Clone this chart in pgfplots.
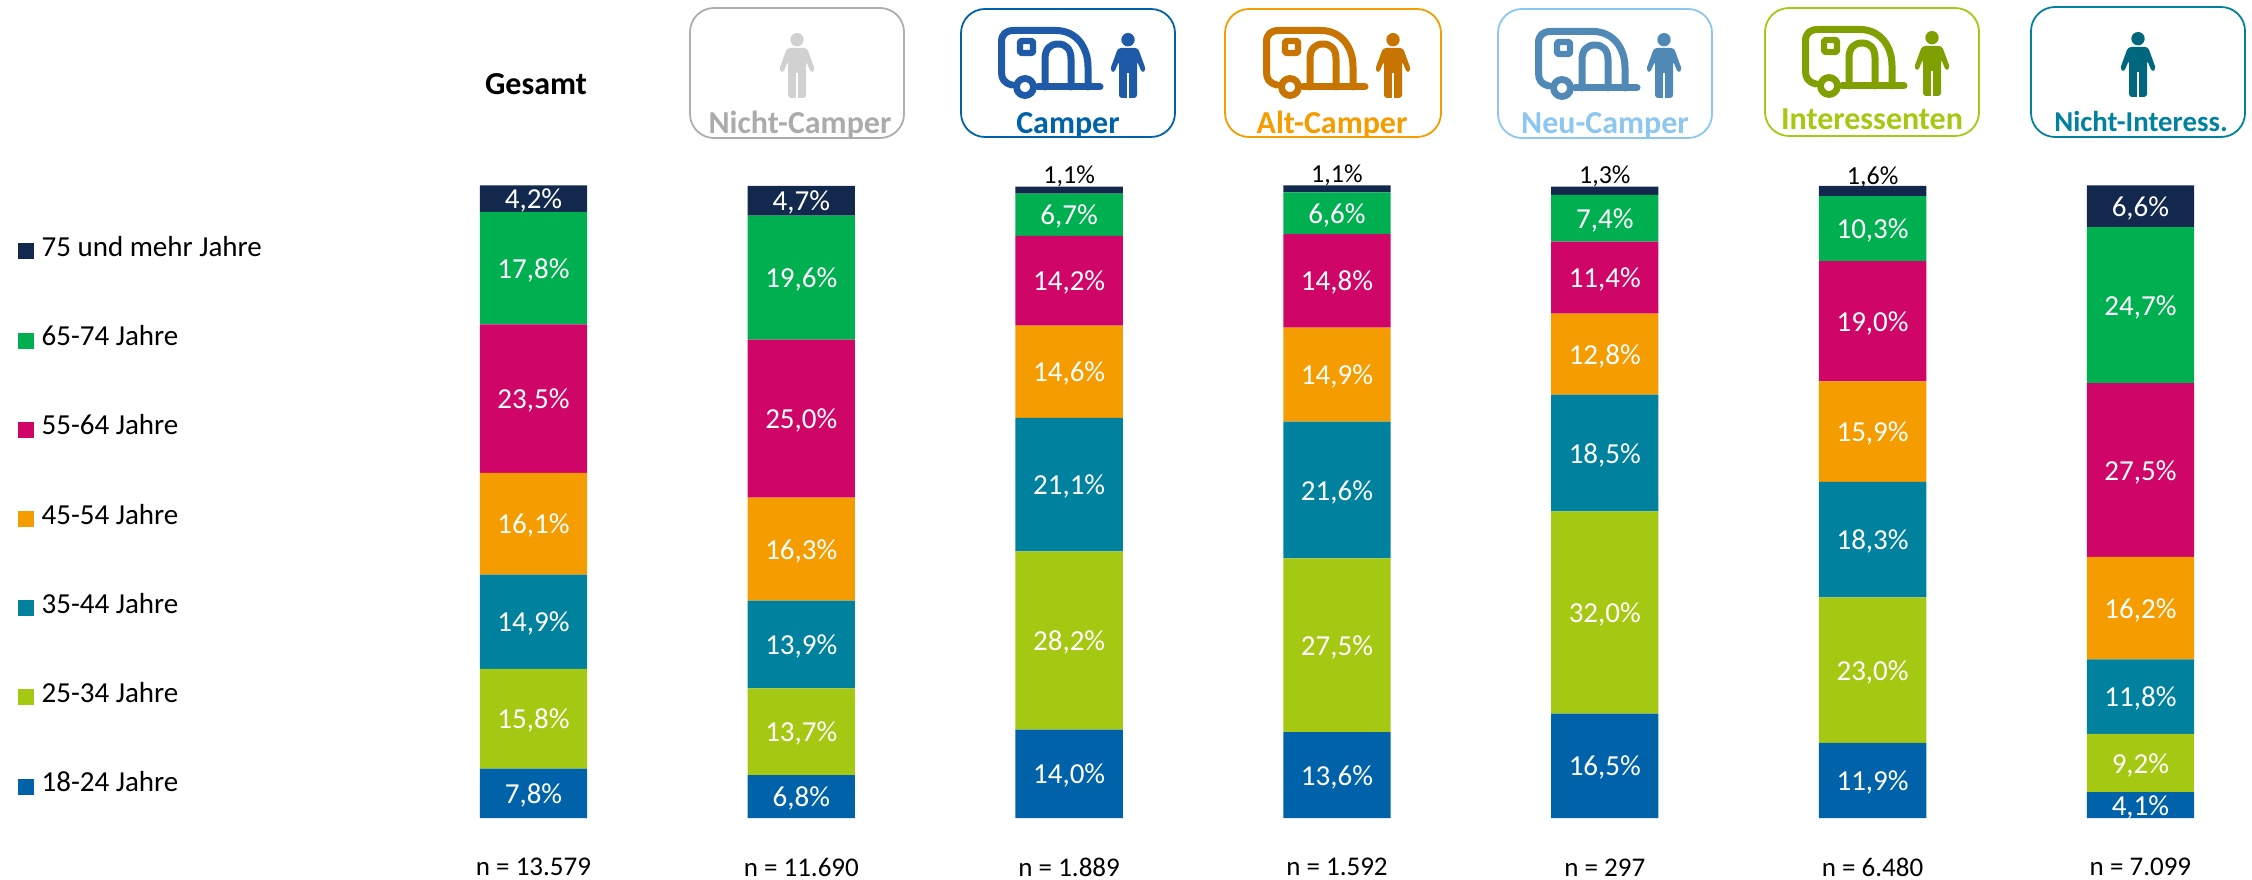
\documentclass[border=0pt]{standalone}
\usepackage{fontspec}
\setmainfont{Carlito}
\usepackage{pgfplots}
\pgfplotsset{compat=1.18}

\definecolor{cNavy}{HTML}{12284C}
\definecolor{cGreen}{HTML}{00B050}
\definecolor{cPink}{HTML}{CF0667}
\definecolor{cOrange}{HTML}{F59C00}
\definecolor{cTeal}{HTML}{00829F}
\definecolor{cLime}{HTML}{A5C812}
\definecolor{cBlue}{HTML}{0063AA}
\definecolor{cSky}{HTML}{8DC6EE}
\definecolor{iBlue}{HTML}{1F5AA8}
\definecolor{iOrange}{HTML}{C77400}
\definecolor{iSky}{HTML}{5089B5}
\definecolor{iLime}{HTML}{7FA000}
\definecolor{iTeal}{HTML}{00677F}

% icons, local units are reference pixels
\newcommand{\person}[3]{%
  \begin{scope}[shift={(#1,#2)}]
    \fill[#3] (0,6.7) circle (6.7);
    \fill[#3,rounded corners=1.5pt] (-10,15) -- (10,15) -- (18,37) -- (14,40) -- (9,28) -- (9,65) -- (-9,65) -- (-9,28) -- (-14,40) -- (-18,37) -- cycle;
    \draw[white,line width=1pt] (0,40) -- (0,66);
  \end{scope}}
\newcommand{\caravan}[3]{%
  \begin{scope}[shift={(#1,#2)},#3,line width=3.5pt,line cap=round,line join=round]
    \draw (102,60) -- (40,60);
    \draw (14,58) .. controls (6,56) and (3.5,52) .. (3.5,45) -- (3.5,15) .. controls (3.5,7) and (8,3.5) .. (16,3.5) -- (58,3.5) .. controls (78,3.5) and (90,20) .. (90,40) -- (90,60);
    \draw (47,60) -- (47,32) .. controls (47,22) and (52,17) .. (60,17) .. controls (68,17) and (73,22) .. (73,32) -- (73,60);
    \draw[line width=3.2pt,rounded corners=1pt] (22,14) rectangle (35,26);
    \draw[line width=3.4pt] (27,60) circle (8.5);
  \end{scope}}
\newcommand{\headbox}[5]{% x0, y0, x1, y1, colour
  \draw[#5,line width=0.9pt,rounded corners=12pt] (#1,#2) rectangle (#3,#4);}

\pgfplotstableread{
x  a    b    c    d    e    f    g
0  7.8  15.8 14.9 16.1 23.5 17.8 4.2
1  6.8  13.7 13.9 16.3 25.0 19.6 4.7
2  14.0 28.2 21.1 14.6 14.2 6.7  1.1
3  13.6 27.5 21.6 14.9 14.8 6.6  1.1
4  16.5 32.0 18.5 12.8 11.4 7.4  1.3
5  11.9 23.0 18.3 15.9 19.0 10.3 1.6
6  4.1  9.2  11.8 16.2 27.5 24.7 6.6
}\agegroups

\begin{document}
\begin{tikzpicture}
\path[use as bounding box] (0,0) rectangle (1126pt,439.5pt);
\begin{axis}[
    at={(0,0)},anchor=south west,
    scale only axis,
    width=1126pt,height=439.5pt,
    hide axis,clip=false,
    xmin=-1.9919,xmax=6.4164,
    ymin=-9.65,ymax=129.43,
    ybar stacked,
    bar width=53.65pt,
    /pgf/number format/use comma,
    /pgf/number format/fixed,
    /pgf/number format/fixed zerofill,
    /pgf/number format/precision=1,
    /pgf/number format/assume math mode=true,
    nodes near coords={\pgfmathprintnumber{\pgfplotspointmeta}\%},
    nodes near coords style={white,yshift=-1pt,font=\fontsize{14.5pt}{15pt}\selectfont},
    every axis plot/.append style={draw=none},
    reverse legend,
    legend cell align=left,
    legend style={at={(axis cs:-1.9919,100)},anchor=north west,xshift=9pt,yshift=-24pt,
      draw=none,fill=none,inner sep=0pt,row sep=27.6pt,
      /tikz/column 1/.style={column sep=3.6pt},
      font=\fontsize{14.5pt}{15pt}\selectfont,
      nodes={inner sep=0pt,text height=11pt,text depth=6pt}},
    legend image code/.code={\fill[#1] (-1pt,-4pt) rectangle (7pt,4pt);},
]
\addplot[fill=cBlue] table[x=x,y=a] {\agegroups};
\addlegendentry{18-24 Jahre}
\addplot[fill=cLime] table[x=x,y=b] {\agegroups};
\addlegendentry{25-34 Jahre}
\addplot[fill=cTeal] table[x=x,y=c] {\agegroups};
\addlegendentry{35-44 Jahre}
\addplot[fill=cOrange] table[x=x,y=d] {\agegroups};
\addlegendentry{45-54 Jahre}
\addplot[fill=cPink] table[x=x,y=e] {\agegroups};
\addlegendentry{55-64 Jahre}
\addplot[fill=cGreen] table[x=x,y=f] {\agegroups};
\addlegendentry{65-74 Jahre}
% thin segments carry their label above the bar, in black
\addplot[fill=cNavy,
    nodes near coords={\pgfmathfloattofixed{\pgfplotspointmeta}\ifdim\pgfmathresult pt<2pt
        \raisebox{4.4pt}[0pt][0pt]{\color{black}\fontsize{13pt}{14pt}\selectfont\pgfmathprintnumber{\pgfplotspointmeta}\%}%
      \else\pgfmathprintnumber{\pgfplotspointmeta}\%\fi}]
    table[x=x,y=g] {\agegroups};
\addlegendentry{75 und mehr Jahre}

\tikzset{nlab/.style={inner sep=0pt,font=\fontsize{13.5pt}{14pt}\selectfont}}
\node[nlab] at (axis cs:0,-7.8) {n = 13.579};
\node[nlab] at (axis cs:1,-7.8) {n = 11.690};
\node[nlab] at (axis cs:2,-7.8) {n = 1.889};
\node[nlab] at (axis cs:3,-7.8) {n = 1.592};
\node[nlab] at (axis cs:4,-7.8) {n = 297};
\node[nlab] at (axis cs:5,-7.8) {n = 6.480};
\node[nlab] at (axis cs:6,-7.8) {n = 7.099};
\end{axis}

% headers, in reference pixels from the top left corner
\begin{scope}[shift={(0,439.5pt)},x=0.5pt,y=-0.5pt]
  \tikzset{head/.style={font=\fontsize{16pt}{17pt}\selectfont\bfseries,inner sep=0pt,text height=11pt,text depth=3.5pt}}
  \node[head] at (536,87) {Gesamt};

  \headbox{690}{8}{904}{138}{black!32}
  \person{797}{33}{black!18}
  \node[head,text=black!33] at (800,126) {Nicht-Camper};

  \headbox{961}{9}{1175}{137}{cBlue}
  \caravan{998}{27}{color=iBlue}
  \person{1128}{33}{iBlue}
  \node[head,text=cBlue] at (1068,126) {Camper};

  \headbox{1225}{9}{1441}{137}{cOrange}
  \caravan{1263}{27}{color=iOrange}
  \person{1393}{33}{iOrange}
  \node[head,text=cOrange] at (1332,126) {Alt-Camper};

  \headbox{1498}{9}{1712}{138}{cSky}
  \caravan{1535}{28}{color=iSky}
  \person{1664}{33}{iSky}
  \node[head,text=cSky] at (1605,126) {Neu-Camper};

  \headbox{1765}{8}{1979}{136}{cLime}
  \caravan{1802}{26}{color=iLime}
  \person{1932}{31}{iLime}
  \node[head,text=cLime] at (1872,122) {Interessenten};

  \headbox{2031}{7}{2245}{137}{cTeal}
  \person{2138}{32}{iTeal}
  \node[head,font=\fontsize{14.4pt}{15pt}\selectfont\bfseries,text=cTeal] at (2141,124) {Nicht-Interess.};
\end{scope}
\end{tikzpicture}
\end{document}
